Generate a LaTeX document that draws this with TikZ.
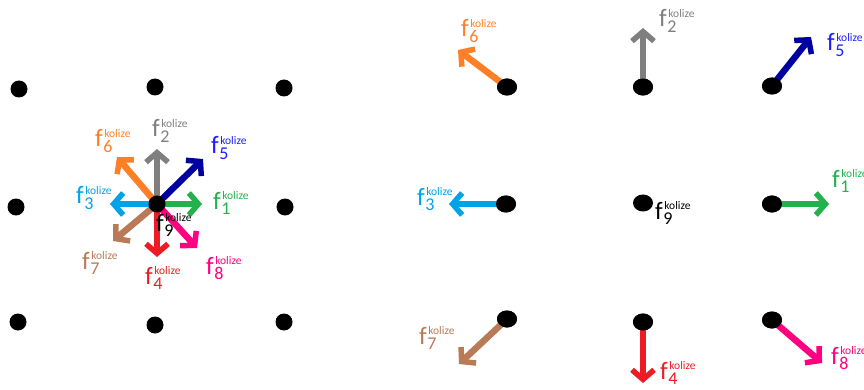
\documentclass[tikz,border=0pt]{standalone}
\usepackage{fontspec}
\setmainfont{Carlito}
\usetikzlibrary{arrows.meta,shapes.geometric}
\definecolor{cGreen}{RGB}{34,177,76}
\definecolor{cGray}{RGB}{127,127,127}
\definecolor{cCyan}{RGB}{0,162,232}
\definecolor{cRed}{RGB}{237,28,36}
\definecolor{cNavy}{RGB}{0,0,160}
\definecolor{cBlue}{RGB}{30,30,255}
\definecolor{cOrange}{RGB}{255,127,39}
\definecolor{cBrown}{RGB}{185,122,87}
\definecolor{cPink}{RGB}{255,0,128}
\newcommand{\flab}[1]{\fontsize{25}{25}\selectfont f\rlap{\kern1.5pt\raisebox{9.5pt}{\fontsize{11.5}{11.5}\selectfont kolize}}\kern0.5pt\raisebox{-5.5pt}{\fontsize{18}{18}\selectfont #1}}
\tikzset{
  dotL/.style={circle,fill=black,inner sep=0pt,minimum size=17pt},
  dotR/.style={ellipse,fill=black,inner sep=0pt,minimum width=20pt,minimum height=17pt},
  vec/.style={line width=6.5pt,-{Straight Barb[length=9.5pt,width=22pt,line width=5.5pt]}},
  lab/.style={inner sep=0pt,anchor=base west}
}
\begin{document}
\begin{tikzpicture}[x=1pt,y=-1pt]
\useasboundingbox (0,0) rectangle (864,390);
% ---- left grid ----
\coordinate (c) at (157,204);
\coordinate (t1) at (202,204);
\coordinate (t2) at (157,149);
\coordinate (t3) at (110,204);
\coordinate (t4) at (157,257);
\coordinate (t5) at (203,159);
\coordinate (t6) at (117,157);
\coordinate (t7) at (113,241);
\coordinate (t8) at (197,248);
\draw[vec,cGray] (c) -- (t2);
\draw[vec,cOrange] (c) -- (t6);
\draw[vec,cNavy] (c) -- (t5);
\draw[vec,cCyan] (c) -- (t3);
\draw[vec,cGreen] (c) -- (t1);
\draw[vec,cBrown] (c) -- (t7);
\draw[vec,cPink] (c) -- (t8);
\draw[vec,cRed] (c) -- (t4);
\node[dotL] (L1) at (19,89) {};
\node[dotL] (L2) at (155,87) {};
\node[dotL] (L3) at (284,88) {};
\node[dotL] (L4) at (16,207) {};
\node[dotL] (L5) at (c) {};
\node[dotL] (L6) at (285,207) {};
\node[dotL] (L7) at (18,322) {};
\node[dotL] (L8) at (155,325) {};
\node[dotL] (L9) at (284,322) {};
\node[lab,text=cOrange] (a6) at (95,147) {\flab{6}};
\node[lab,text=cGray] (a2) at (152,137) {\flab{2}};
\node[lab,text=cBlue] (a5) at (211,154) {\flab{5}};
\node[lab,text=cCyan] (a3) at (76,204) {\flab{3}};
\node[lab,text=cGreen] (a1) at (213,209) {\flab{1}};
\node[lab,text=black] (a9) at (156,231) {\flab{9}};
\node[lab,text=cBrown] (a7) at (82,269) {\flab{7}};
\node[lab,text=cRed] (a4) at (145,284) {\flab{4}};
\node[lab,text=cPink] (a8) at (206,274) {\flab{8}};
% ---- right grid ----
\coordinate (s6) at (458,50);
\coordinate (s2) at (643,28);
\coordinate (s5) at (811,37);
\coordinate (s3) at (449,204);
\coordinate (s1) at (829,204);
\coordinate (s7) at (459,364);
\coordinate (s4) at (643,383);
\coordinate (s8) at (822,363);
\node[dotR] (R1) at (507,87) {};
\node[dotR] (R2) at (643,87) {};
\node[dotR] (R3) at (772,86) {};
\node[dotR] (R4) at (506,204) {};
\node[dotR] (R5) at (643,203) {};
\node[dotR] (R6) at (772,204) {};
\node[dotR] (R7) at (507,319) {};
\node[dotR] (R8) at (643,322) {};
\node[dotR] (R9) at (772,320) {};
\draw[vec,cOrange] (R1.center) -- (s6);
\draw[vec,cGray] (R2.center) -- (s2);
\draw[vec,cNavy] (R3.center) -- (s5);
\draw[vec,cCyan] (R4.center) -- (s3);
\draw[vec,cGreen] (R6.center) -- (s1);
\draw[vec,cBrown] (R7.center) -- (s7);
\draw[vec,cRed] (R8.center) -- (s4);
\draw[vec,cPink] (R9.center) -- (s8);
\node[dotR] at (R1) {};
\node[dotR] at (R2) {};
\node[dotR] at (R3) {};
\node[dotR] at (R4) {};
\node[dotR] at (R6) {};
\node[dotR] at (R7) {};
\node[dotR] at (R8) {};
\node[dotR] at (R9) {};
\node[lab,text=cOrange] (b6) at (461,37) {\flab{6}};
\node[lab,text=cGray] (b2) at (659,27) {\flab{2}};
\node[lab,text=cBlue] (b5) at (827,51) {\flab{5}};
\node[lab,text=cCyan] (b3) at (417,205) {\flab{3}};
\node[lab,text=black] (b9) at (655,219) {\flab{9}};
\node[lab,text=cGreen] (b1) at (832,187) {\flab{1}};
\node[lab,text=cBrown] (b7) at (419,344) {\flab{7}};
\node[lab,text=cRed] (b4) at (660,379) {\flab{4}};
\node[lab,text=cPink] (b8) at (831,364) {\flab{8}};
\end{tikzpicture}
\end{document}
